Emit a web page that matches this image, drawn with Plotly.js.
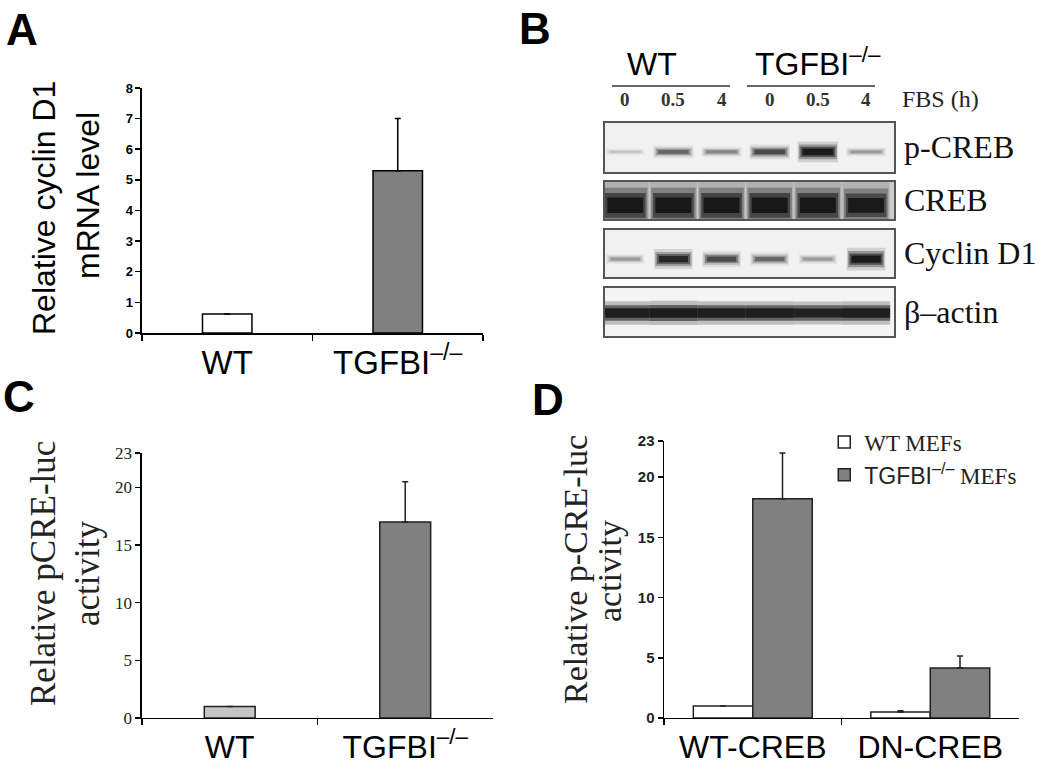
<!DOCTYPE html>
<html>
<head>
<meta charset="utf-8">
<script src="https://cdn.plot.ly/plotly-3.0.1.min.js"></script>
<style>
  body { margin: 0; background: #fff; }
  #graph { width: 1050px; height: 773px; }
</style>
</head>
<body>
<div id="graph"></div>
<script>
// panel A: cyclin D1 mRNA
const genotypes = ['WT', 'TGFBI<sup>–/–</sup>'];
const cyclinMrna = [0.62, 5.3];
const cyclinMrnaErr = [0, 1.7];

// panel C: pCRE-luc
const creLuc = [1.0, 17.0];
const creLucErr = [0, 3.5];

// panel D: p-CRE-luc with WT / DN CREB
const crebConstructs = ['WT-CREB', 'DN-CREB'];
const wtMefs = [1.0, 0.5];
const wtMefsErr = [0, 0.1];
const koMefs = [18.2, 4.15];
const koMefsErr = [3.8, 1.0];

// panel B: western blot, band intensity 0..1 per lane
const lanes = [0, 1, 2, 3, 4, 5];
const laneLabels = ['0', '0.5', '4', '0', '0.5', '4'];
const blotNames = ['p-CREB', 'CREB', 'Cyclin D1', 'β–actin'];
const pCreb = [0.12, 0.45, 0.32, 0.6, 1.0, 0.25];
const creb = [1.0, 1.0, 1.0, 1.0, 1.0, 0.95];
const cyclinD1 = [0.25, 0.85, 0.6, 0.45, 0.25, 1.0];
const betaActin = [0.92, 0.95, 0.92, 0.92, 0.9, 0.92];
const blotData = [pCreb, creb, cyclinD1, betaActin];

const serif = 'Liberation Serif, Times New Roman, serif';
const sans = 'Liberation Sans, Arial, sans-serif';

// strip look (not data)
const taper = [
    { w: 1.9, h: 1.0, a: 0.14 },
    { w: 1.35, h: 0.94, a: 0.3 },
    { w: 0.95, h: 0.86, a: 0.5 },
    { w: 0.6, h: 0.76, a: 0.8 }
];
const flat = [
    { w: 1.5, h: 1.0, a: 0.25 },
    { w: 1.0, h: 1.0, a: 0.55 },
    { w: 0.6, h: 1.0, a: 0.85 }
];
const strips = [
    { y: 0.41, hw: 0.42, thick: v => 3 + 8 * v, bg: '#f1f1f1', layers: taper },
    { y: 0.37, hw: 0.49, thick: v => 26 * v, bg: '#cbcbcb', layers: taper },
    { y: 0.38, hw: 0.4, thick: v => 3 + 9 * v, bg: '#f1f1f1', layers: taper },
    { y: 0.48, hw: 0.5, thick: v => 17 * v, bg: '#f4f4f4', layers: flat }
];
const stripDomains = [[0.7775, 0.8409], [0.7167, 0.7646], [0.6417, 0.7025], [0.5653, 0.6274]];

let traces = [];

traces.push({
    type: 'bar', x: genotypes, y: cyclinMrna, xaxis: 'x', yaxis: 'y',
    width: 0.29, showlegend: false,
    marker: { color: ['#ffffff', '#808080'], line: { color: '#000', width: 1.5 } },
    error_y: { type: 'data', array: cyclinMrnaErr, arrayminus: [0, 0], symmetric: false,
        color: '#000', thickness: 1.5, width: 3 }
});

traces.push({
    type: 'bar', x: genotypes, y: creLuc, xaxis: 'x6', yaxis: 'y6',
    width: 0.29, showlegend: false,
    marker: { color: ['#c4c4c4', '#808080'], line: { color: '#222', width: 1.5 } },
    error_y: { type: 'data', array: creLucErr, arrayminus: [0, 0], symmetric: false,
        color: '#222', thickness: 1.5, width: 3 }
});

traces.push({
    type: 'bar', name: 'WT MEFs', x: crebConstructs, y: wtMefs, xaxis: 'x7', yaxis: 'y7',
    marker: { color: '#ffffff', line: { color: '#222', width: 1.5 } },
    error_y: { type: 'data', array: wtMefsErr, arrayminus: [0, 0], symmetric: false,
        color: '#222', thickness: 1.5, width: 3 }
});
traces.push({
    type: 'bar', name: '<span style="font-family:Liberation Sans">TGFBI<sup>–/–</sup></span> MEFs',
    x: crebConstructs, y: koMefs, xaxis: 'x7', yaxis: 'y7',
    marker: { color: '#808080', line: { color: '#222', width: 1.5 } },
    error_y: { type: 'data', array: koMefsErr, arrayminus: [0, 0], symmetric: false,
        color: '#222', thickness: 1.5, width: 3 }
});

// blot bands as stacked soft line segments
blotData.forEach(function (row, r) {
    const s = strips[r];
    const ax = r + 2;
    row.forEach(function (v, i) {
        s.layers.forEach(function (l) {
            traces.push({
                type: 'scatter', mode: 'lines', showlegend: false, hoverinfo: 'skip',
                xaxis: 'x' + ax, yaxis: 'y' + ax,
                x: [lanes[i] - s.hw * l.h, lanes[i] + s.hw * l.h],
                y: [s.y, s.y],
                line: { color: 'rgba(12,12,12,' + (v * l.a).toFixed(3) + ')', width: s.thick(v) * l.w }
            });
        });
    });
});

function barX(domain, font) {
    return {
        domain: domain, type: 'category', showline: true, linecolor: '#000', linewidth: 1.5,
        ticks: 'outside', tickson: 'boundaries', ticklen: 6, tickwidth: 1.5, tickcolor: '#000',
        tickfont: font, showgrid: false, zeroline: false, fixedrange: true
    };
}
function barY(domain, range, dtick, font, tickvals) {
    return {
        domain: domain, range: range, dtick: dtick, tickvals: tickvals, showline: true,
        linecolor: '#000', linewidth: 1.5, ticks: 'outside', ticklen: 5, tickwidth: 1.5,
        tickcolor: '#000', tickfont: font, showgrid: false, zeroline: false, fixedrange: true
    };
}

let layout = {
    width: 1050, height: 773,
    margin: { l: 0, r: 0, t: 0, b: 0 },
    paper_bgcolor: '#fff', plot_bgcolor: 'rgba(0,0,0,0)',
    barmode: 'group', bargap: 0.33, bargroupgap: 0,
    font: { family: sans, color: '#000' },
    xaxis: Object.assign(barX([0.1352, 0.46], { family: sans, size: 33 }), { anchor: 'y' }),
    yaxis: Object.assign(barY([0.5692, 0.8862], [0, 8], 1,
        { family: sans, size: 13, weight: 'bold' }), { anchor: 'x' }),
    xaxis6: Object.assign(barX([0.1352, 0.4695], { family: sans, size: 32 }), { anchor: 'y6' }),
    yaxis6: Object.assign(barY([0.0712, 0.414], [0, 23], null,
        { family: serif, size: 17, color: '#222' }, [0, 5, 10, 15, 20, 23]), { anchor: 'x6' }),
    xaxis7: Object.assign(barX([0.6324, 0.9705], { family: sans, size: 32 }), { anchor: 'y7' }),
    yaxis7: Object.assign(barY([0.0712, 0.4295], [0, 23], null,
        { family: sans, size: 15, weight: 'bold', color: '#222' }, [0, 5, 10, 15, 20, 23]), { anchor: 'x7' }),
    legend: {
        x: 0.785, y: 0.456, xanchor: 'left', yanchor: 'top',
        font: { family: serif, size: 23, color: '#222' },
        bgcolor: 'rgba(0,0,0,0)', itemwidth: 30, tracegroupgap: 0
    },
    shapes: [],
    annotations: []
};

// blot strip axes
stripDomains.forEach(function (d, r) {
    const ax = r + 2;
    layout['xaxis' + ax] = {
        domain: [0.5762, 0.8514], range: [-0.42, 5.58], anchor: 'y' + ax,
        showline: true, mirror: true, linecolor: '#555', linewidth: 2,
        showticklabels: false, ticks: '', showgrid: false, zeroline: false, fixedrange: true
    };
    layout['yaxis' + ax] = {
        domain: d, range: [0, 1], anchor: 'x' + ax,
        showline: true, mirror: true, linecolor: '#555', linewidth: 2,
        showticklabels: false, ticks: '', showgrid: false, zeroline: false, fixedrange: true
    };
    layout.shapes.push({
        type: 'rect', xref: 'x' + ax + ' domain', yref: 'y' + ax + ' domain',
        x0: 0, x1: 1, y0: 0, y1: 1, fillcolor: strips[r].bg, line: { width: 0 }, layer: 'below'
    });
    layout.annotations.push({
        xref: 'paper', yref: 'paper', x: 0.859, y: (d[0] + d[1]) / 2,
        xanchor: 'left', yanchor: 'middle', showarrow: false,
        text: blotNames[r], font: { family: serif, size: 32, color: '#111' }
    });
});

// group underlines above the blot
layout.shapes.push(
    { type: 'line', xref: 'paper', yref: 'paper', x0: 612 / 1050, x1: 730 / 1050,
        y0: 1 - 86 / 773, y1: 1 - 86 / 773, line: { color: '#666', width: 2 } },
    { type: 'line', xref: 'paper', yref: 'paper', x0: 747 / 1050, x1: 875 / 1050,
        y0: 1 - 86 / 773, y1: 1 - 86 / 773, line: { color: '#666', width: 2 } }
);

lanes.forEach(function (l, i) {
    layout.annotations.push({
        xref: 'x2', yref: 'paper', x: l, y: 1 - 99 / 773, showarrow: false,
        xanchor: 'center', yanchor: 'middle', text: '<b>' + laneLabels[i] + '</b>',
        font: { family: serif, size: 19, color: '#333' }
    });
});

function note(text, x, y, font, extra) {
    layout.annotations.push(Object.assign({
        xref: 'paper', yref: 'paper', x: x / 1050, y: 1 - y / 773, text: text,
        showarrow: false, xanchor: 'center', yanchor: 'middle', font: font
    }, extra || {}));
}

note('FBS (h)', 900, 99, { family: serif, size: 24, color: '#222' }, { xanchor: 'left' });
note('WT', 652, 64, { family: sans, size: 32 });
note('TGFBI<sup>–/–</sup>', 818, 62, { family: sans, size: 32 });

// panel letters
note('<b>A</b>', 22, 29, { family: sans, size: 44 });
note('<b>B</b>', 535, 28, { family: sans, size: 44 });
note('<b>C</b>', 19, 396, { family: sans, size: 44 });
note('<b>D</b>', 548, 399, { family: sans, size: 44 });

// rotated y titles
note('Relative cyclin D1', 44, 208, { family: sans, size: 32 }, { textangle: -90 });
note('mRNA level', 88, 196, { family: sans, size: 32 }, { textangle: -90 });
note('Relative pCRE-luc', 43, 574, { family: serif, size: 35, color: '#222' }, { textangle: -90 });
note('activity', 87, 574, { family: serif, size: 35, color: '#222' }, { textangle: -90 });
note('Relative p-CRE-luc', 575, 570, { family: serif, size: 34, color: '#222' }, { textangle: -90 });
note('activity', 609, 571, { family: serif, size: 34, color: '#222' }, { textangle: -90 });

Plotly.newPlot('graph', traces, layout, { staticPlot: true });
</script>
</body>
</html>
